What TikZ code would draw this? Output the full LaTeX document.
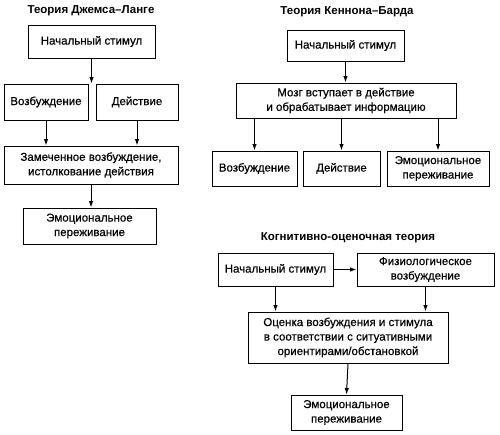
\documentclass[tikz,border=0pt]{standalone}
\usepackage{fontspec}
\setmainfont{Liberation Sans}
\newfontfamily\boxfont{Liberation Sans}[FakeBold=0.5]
\usetikzlibrary{arrows.meta}
\tikzset{
  bx/.style={draw, line width=1pt, inner sep=0pt, align=center,
    font=\boxfont\fontsize{11.5}{14.5}\selectfont},
  ttl/.style={inner sep=0pt, font=\fontsize{11.5}{14}\selectfont\bfseries},
  arr/.style={line width=1pt, -{Latex[length=6.5pt,width=4.5pt]}}
}
\begin{document}
\begin{tikzpicture}[x=1pt,y=-1pt]
\useasboundingbox (0,0) rectangle (500,434);
% James-Lange
\node[ttl] (jt) at (91,11) {Теория Джемса–Ланге};
\node[bx, minimum width=127, minimum height=33] (js) at (91.5,41.5) {Начальный стимул};
\node[bx, minimum width=84, minimum height=36] (jv) at (46,102) {Возбуждение};
\node[bx, minimum width=82, minimum height=36] (jd) at (137,102) {Действие};
\node[bx, minimum width=174, minimum height=38] (jz) at (91,165) {Замеченное возбуждение,\\истолкование действия};
\node[bx, minimum width=133, minimum height=36] (je) at (89.5,226) {Эмоциональное\\переживание};
\coordinate (jm) at (js.south |- jv.north);
\draw[arr] (js.south) -- (jm);
\draw[arr] (jv.south) -- (jv.south |- jz.north);
\draw[arr] (jd.south) -- (jd.south |- jz.north);
\draw[arr] (jz.south) -- (jz.south |- je.north);
% Cannon-Bard
\node[ttl] (ct) at (347,12) {Теория Кеннона–Барда};
\node[bx, minimum width=117, minimum height=31] (cs) at (345.5,45.5) {Начальный стимул};
\node[bx, minimum width=220, minimum height=35] (cm) at (346,100.5) {Мозг вступает в действие\\и обрабатывает информацию};
\node[bx, minimum width=85, minimum height=35] (cv) at (254.5,168.5) {Возбуждение};
\node[bx, minimum width=77, minimum height=35] (cd) at (341.5,168.5) {Действие};
\node[bx, minimum width=102, minimum height=35] (ce) at (438,168.5) {Эмоциональное\\переживание};
\draw[arr] (cs.south) -- (cs.south |- cm.north);
\draw[arr] (cv.north |- cm.south) -- (cv.north);
\draw[arr] (cd.north |- cm.south) -- (cd.north);
\draw[arr] (ce.north |- cm.south) -- (ce.north);
% Cognitive
\node[ttl] (kt) at (348,238) {Когнитивно-оценочная теория};
\node[bx, minimum width=115, minimum height=33] (ks) at (275.5,269.5) {Начальный стимул};
\node[bx, minimum width=137, minimum height=33] (kf) at (425.5,269.5) {Физиологическое\\возбуждение};
\node[bx, minimum width=200, minimum height=51] (ko) at (348,337.5) {Оценка возбуждения и стимула\\в соответствии с ситуативными\\ориентирами/обстановкой};
\node[bx, minimum width=111, minimum height=35] (ke) at (346.5,412.5) {Эмоциональное\\переживание};
\draw[arr] (ks.east) -- (kf.west);
\draw[arr] (ks.south) -- (ks.south |- ko.north);
\draw[arr] (kf.south) -- (kf.south |- ko.north);
\draw[arr] (ko.south) -- (ke.north);
\end{tikzpicture}
\end{document}
